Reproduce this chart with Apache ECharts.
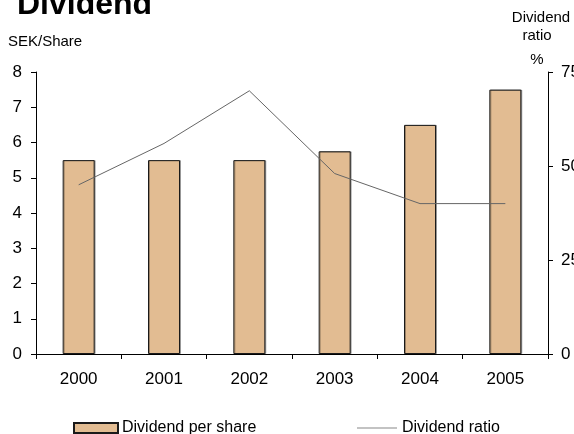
<!DOCTYPE html>
<html>
<head>
<meta charset="utf-8">
<script src="https://cdn.jsdelivr.net/npm/echarts@6/dist/echarts.min.js"></script>
<style>
  html, body { margin: 0; padding: 0; background: #fff; }
  #chart { width: 574px; height: 434px; }
</style>
</head>
<body>
<div id="chart"></div>
<script>
// Yearly dividend per share (SEK) and dividend ratio (%)
const years = ['2000', '2001', '2002', '2003', '2004', '2005'];
const dividendPerShare = [5.5, 5.5, 5.5, 5.75, 6.5, 7.5];
const dividendRatio = [45, 56, 70, 48, 40, 40];

const FONT = '"Liberation Sans", Arial, sans-serif';

const chart = echarts.init(document.getElementById('chart'), null, { renderer: 'canvas' });

chart.setOption({
  animation: false,
  backgroundColor: '#ffffff',
  textStyle: { fontFamily: FONT, color: '#000' },
  grid: { left: 36, right: 26, top: 72, bottom: 80, containLabel: false, outerBoundsMode: 'none' },
  graphic: [
    { type: 'text', left: 17, top: -11, style: { text: 'Dividend', font: 'bold 32px ' + FONT, fill: '#000' } },
    { type: 'text', left: 8, top: 34, style: { text: 'SEK/Share', font: '15px ' + FONT, fill: '#000' } },
    { type: 'text', x: 541, y: 18, style: { text: 'Dividend', font: '15px ' + FONT, fill: '#000', align: 'center', verticalAlign: 'middle' } },
    { type: 'text', x: 537, y: 36, style: { text: 'ratio', font: '15px ' + FONT, fill: '#000', align: 'center', verticalAlign: 'middle' } },
    { type: 'text', x: 537, y: 60, style: { text: '%', font: '15px ' + FONT, fill: '#000', align: 'center', verticalAlign: 'middle' } }
  ],
  legend: [
    {
      data: ['Dividend per share'],
      left: 73, top: 420, padding: 0,
      itemWidth: 44, itemHeight: 10, itemGap: 0,
      icon: 'rect',
      textStyle: { fontSize: 16, fontFamily: FONT, color: '#000', padding: [0, 0, 0, -1] }
    },
    {
      data: [{ name: 'Dividend ratio', icon: 'rect', itemStyle: { color: '#888' } }],
      left: 357, top: 420, padding: 0,
      itemWidth: 40, itemHeight: 1, itemGap: 0,
      textStyle: { fontSize: 16, fontFamily: FONT, color: '#000' }
    }
  ],
  xAxis: {
    type: 'category',
    data: years,
    boundaryGap: true,
    axisLine: { show: true, lineStyle: { color: '#000', width: 1 } },
    axisTick: { show: true, alignWithLabel: false, length: 5, lineStyle: { color: '#000' } },
    axisLabel: { fontSize: 17, color: '#000', margin: 17, fontFamily: FONT },
    splitLine: { show: false }
  },
  yAxis: [
    {
      type: 'value',
      min: 0, max: 8, interval: 1,
      axisLine: { show: true, lineStyle: { color: '#000', width: 1 } },
      axisTick: { show: true, length: 5, lineStyle: { color: '#000' } },
      axisLabel: { fontSize: 17, color: '#000', margin: 14, fontFamily: FONT },
      splitLine: { show: false }
    },
    {
      type: 'value',
      min: 0, max: 75, interval: 25,
      position: 'right',
      axisLine: { show: true, lineStyle: { color: '#000', width: 1 } },
      axisTick: { show: true, length: 5, lineStyle: { color: '#000' } },
      axisLabel: { fontSize: 17, color: '#000', margin: 13, fontFamily: FONT },
      splitLine: { show: false }
    }
  ],
  series: [
    {
      name: 'Dividend per share',
      type: 'bar',
      yAxisIndex: 0,
      data: dividendPerShare,
      barWidth: '37.5%',
      itemStyle: {
        color: '#E2BC92',
        borderColor: '#1a1a1a',
        borderWidth: 1,
        shadowColor: 'rgba(0,0,0,0.3)',
        shadowOffsetX: 1,
        shadowOffsetY: 0,
        shadowBlur: 0
      }
    },
    {
      name: 'Dividend ratio',
      type: 'line',
      yAxisIndex: 1,
      data: dividendRatio,
      symbol: 'none',
      lineStyle: { color: '#666', width: 1 },
      itemStyle: { color: '#888' },
      z: 3
    }
  ]
});
</script>
</body>
</html>
